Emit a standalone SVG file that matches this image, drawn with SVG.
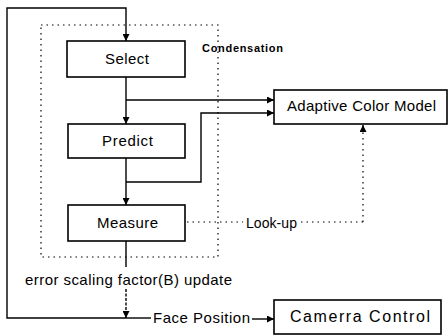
<svg xmlns="http://www.w3.org/2000/svg" width="448" height="336" viewBox="0 0 448 336">
<defs>
<marker id="ah" viewBox="0 0 8 8" refX="8" refY="4" markerWidth="7" markerHeight="7" markerUnits="userSpaceOnUse" orient="auto">
<path d="M0,0 L8,4 L0,8 Z" fill="#000"/>
</marker>
</defs>
<style>
.box{fill:#fff;stroke:#000;stroke-width:1.6}
.t{font-family:"Liberation Sans",Arial,sans-serif;font-size:15px;fill:#000}
.ln{fill:none;stroke:#000;stroke-width:1.4}
.dot{fill:none;stroke:#000;stroke-width:1.2;stroke-dasharray:1.5,4}
</style>
<rect class="dot" x="41" y="25" width="177" height="232"/>
<text class="t" x="202" y="52" style="font-size:11px;font-weight:bold" textLength="81" lengthAdjust="spacing">Condensation</text>
<g id="connectors">
<path class="ln" d="M126,318 H7 V8 H126 V41" marker-end="url(#ah)"/>
<path class="ln" d="M126,77 V124" marker-end="url(#ah)"/>
<path class="ln" d="M126,100 H274" marker-end="url(#ah)"/>
<path class="ln" d="M126,158 V205" marker-end="url(#ah)"/>
<path class="ln" d="M126,182 H201 V113 H274" marker-end="url(#ah)"/>
<path class="ln" d="M126,241 V267"/>
<path class="ln" d="M126,289 V318" style="stroke-dasharray:3,1.5" marker-end="url(#ah)"/>
<path class="ln" d="M126,318 H151"/>
<path class="ln" d="M252,319 H274" marker-end="url(#ah)"/>
<path class="dot" d="M187,222 H243 M301,222 H363"/>
<path class="dot" d="M363,222 V131"/>
<path class="ln" d="M363,131 V125" marker-end="url(#ah)"/>
<text class="t" x="246" y="228" textLength="51" lengthAdjust="spacing" style="font-size:14px">Look-up</text>
<text class="t" x="25" y="285" textLength="207" lengthAdjust="spacing">error scaling factor(B) update</text>
<text class="t" x="153" y="323" textLength="97" lengthAdjust="spacing">Face Position</text>
</g>
<g id="select">
<rect class="box" x="67" y="41" width="118" height="36"/>
<text class="t" x="105" y="64" textLength="44" lengthAdjust="spacing">Select</text>
</g>
<g id="predict">
<rect class="box" x="68" y="124" width="117" height="34"/>
<text class="t" x="102" y="146" textLength="51" lengthAdjust="spacing">Predict</text>
</g>
<g id="measure">
<rect class="box" x="68" y="205" width="117" height="36"/>
<text class="t" x="97" y="228" textLength="61" lengthAdjust="spacing">Measure</text>
</g>
<g id="acm">
<rect class="box" x="274" y="90" width="173" height="34"/>
<text class="t" x="287" y="111" textLength="149" lengthAdjust="spacing">Adaptive Color Model</text>
</g>
<g id="camera">
<rect class="box" x="274" y="300" width="167" height="34"/>
<text class="t" x="290" y="322" textLength="140" lengthAdjust="spacing" style="font-size:16px">Camerra Control</text>
</g>
</svg>
